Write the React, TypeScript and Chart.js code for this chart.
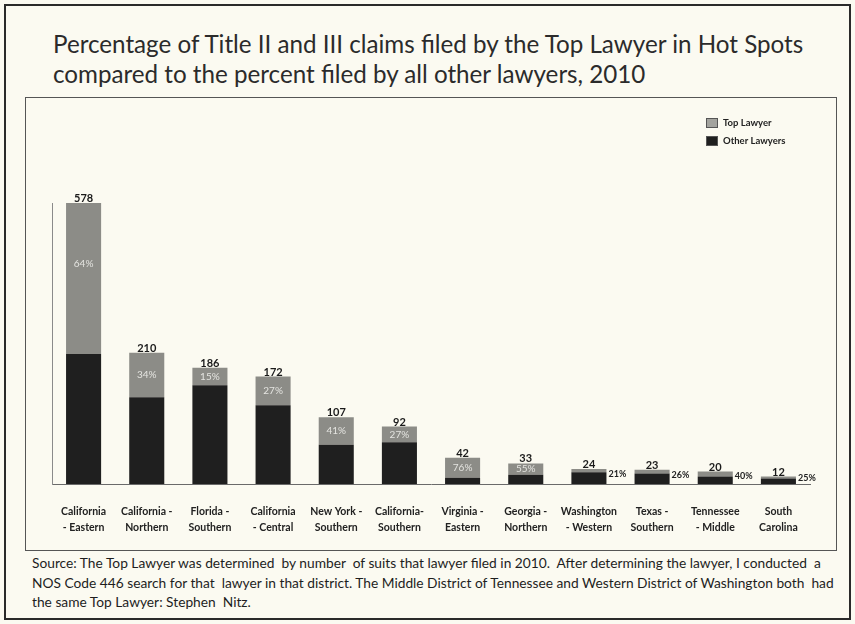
import React, { useEffect, useRef } from "react";
import { Chart, registerables } from "chart.js";

Chart.register(...registerables);

// ---- data ----
const districts: string[][] = [
  ["California", "- Eastern"],
  ["California -", "Northern"],
  ["Florida -", "Southern"],
  ["California", "- Central"],
  ["New York -", "Southern"],
  ["California-", "Southern"],
  ["Virginia -", "Eastern"],
  ["Georgia -", "Northern"],
  ["Washington", "- Western"],
  ["Texas -", "Southern"],
  ["Tennessee", "- Middle"],
  ["South", "Carolina"],
];
const totals = [578, 210, 186, 172, 107, 92, 42, 33, 24, 23, 20, 12];
const topLawyer = [370, 71, 28, 46, 44, 25, 32, 18, 5, 6, 8, 3];
const otherLawyers = [208, 139, 158, 126, 63, 67, 10, 15, 19, 17, 12, 9];
const topShareLabels = ["64%", "34%", "15%", "27%", "41%", "27%", "76%", "55%", "21%", "26%", "40%", "25%"];
const yMax = 450;

const titleLines = [
  "Percentage of Title II and III claims filed by the Top Lawyer in Hot Spots",
  "compared to the percent filed by all other lawyers, 2010",
];
const sourceLines = [
  "Source: The Top Lawyer was determined  by number  of suits that lawyer filed in 2010.  After determining the lawyer, I conducted  a",
  "NOS Code 446 search for that  lawyer in that district. The Middle District of Tennessee and Western District of Washington both  had",
  "the same Top Lawyer: Stephen  Nitz.",
];
const legendLabels = ["Top Lawyer", "Other Lawyers"];

const FONT = "Lato, 'Open Sans', sans-serif";
const TOP_COLOR = "#8c8c87";
const OTHER_COLOR = "#1f1f1f";
const BG = "#fbfaf1";

const labelPlugin = {
  id: "barLabels",
  afterDatasetsDraw(chart: any) {
    const ctx = chart.ctx;
    const area = chart.chartArea;
    const otherMeta = chart.getDatasetMeta(0);
    const topMeta = chart.getDatasetMeta(1);
    ctx.save();
    totals.forEach((t, i) => {
      const el = topMeta.data[i] as any;
      const oel = otherMeta.data[i] as any;
      const visTop = Math.max(el.y, area.top);
      const seg = el.base - visTop;
      ctx.fillStyle = "#1a1a1a";
      ctx.font = `bold 11px ${FONT}`;
      ctx.textAlign = "center";
      ctx.textBaseline = "bottom";
      ctx.fillText(String(t), el.x, visTop + 1);
      if (seg >= 10) {
        ctx.fillStyle = "#e4e4e0";
        ctx.font = `10px ${FONT}`;
        ctx.textBaseline = "middle";
        const cy = el.y < area.top ? visTop + seg * 0.4 : (visTop + el.base) / 2;
        ctx.fillText(topShareLabels[i], el.x, cy);
      } else {
        ctx.fillStyle = "#222";
        ctx.font = `bold 9px ${FONT}`;
        ctx.textAlign = "left";
        ctx.textBaseline = "middle";
        ctx.fillText(topShareLabels[i], el.x + el.width / 2 + 2, (visTop + oel.base) / 2 - 2);
      }
    });
    // legend
    const lx = 680;
    const ly = [20, 38];
    const cols = ["#a3a39e", OTHER_COLOR];
    legendLabels.forEach((lab, k) => {
      ctx.fillStyle = cols[k];
      ctx.fillRect(lx, ly[k], 12, 10);
      ctx.strokeStyle = "#555";
      ctx.lineWidth = 1;
      ctx.strokeRect(lx + 0.5, ly[k] + 0.5, 11, 9);
      ctx.fillStyle = "#222";
      ctx.font = `bold 9.5px ${FONT}`;
      ctx.textAlign = "left";
      ctx.textBaseline = "middle";
      ctx.fillText(lab, lx + 17, ly[k] + 5);
    });
    ctx.restore();
  },
};

export default function App() {
  const canvasRef = useRef<HTMLCanvasElement | null>(null);

  useEffect(() => {
    document.body.style.margin = "0";
    const canvas = canvasRef.current!;
    const chart = new Chart(canvas, {
      type: "bar",
      data: {
        labels: districts,
        datasets: [
          {
            label: legendLabels[1],
            data: otherLawyers,
            backgroundColor: OTHER_COLOR,
            barPercentage: 0.555,
            categoryPercentage: 1,
            clip: 0,
          } as any,
          {
            label: legendLabels[0],
            data: topLawyer,
            backgroundColor: TOP_COLOR,
            barPercentage: 0.555,
            categoryPercentage: 1,
            clip: 0,
          } as any,
        ],
      },
      options: {
        responsive: false,
        animation: false,
        events: [],
        layout: { padding: { left: 26, right: 26, top: 105, bottom: 0 } },
        plugins: {
          legend: { display: false },
          tooltip: { enabled: false },
          title: { display: false },
        },
        scales: {
          x: {
            stacked: true,
            grid: { display: false },
            border: { display: true, color: "#6a6a6a", width: 1 },
            ticks: {
              color: "#222",
              font: { family: FONT, size: 10.5, weight: "bold", lineHeight: 1.5 },
              padding: 12,
              maxRotation: 0,
              autoSkip: false,
            },
            afterFit: (s: any) => {
              s.height = 66;
            },
          },
          y: {
            stacked: true,
            min: 0,
            max: yMax,
            grid: { display: false },
            border: { display: true, color: "#8a8a8a", width: 1 },
            ticks: { display: false },
            afterFit: (s: any) => {
              s.width = 0;
            },
          },
        },
      },
      plugins: [labelPlugin],
    });
    return () => chart.destroy();
  }, []);

  return (
    <div
      style={{
        position: "absolute",
        left: 0,
        top: 0,
        width: 855,
        height: 624,
        background: BG,
        overflow: "hidden",
        fontFamily: FONT,
      }}
    >
      <div
        style={{
          position: "absolute",
          left: 4,
          top: 4,
          width: 843,
          height: 612,
          border: "2px solid #2a2a2a",
        }}
      />
      <div
        style={{
          position: "absolute",
          left: 53,
          top: 29,
          fontSize: 24.2,
          lineHeight: "30px",
          color: "#2b2b2b",
          whiteSpace: "pre",
        }}
      >
        {titleLines.map((l, i) => (
          <div key={i}>{l}</div>
        ))}
      </div>
      <div
        style={{
          position: "absolute",
          left: 25,
          top: 97,
          width: 810,
          height: 452,
          border: "1px solid #555",
        }}
      >
        <canvas ref={canvasRef} width={810} height={452} style={{ display: "block" }} />
      </div>
      <div
        style={{
          position: "absolute",
          left: 32,
          top: 553,
          fontSize: 13.75,
          lineHeight: "19.5px",
          color: "#1e1e1e",
          whiteSpace: "pre",
        }}
      >
        {sourceLines.map((l, i) => (
          <div key={i}>{l}</div>
        ))}
      </div>
    </div>
  );
}
